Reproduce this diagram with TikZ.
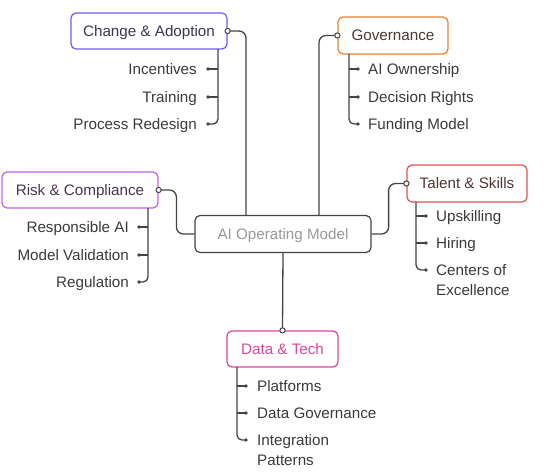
\documentclass[tikz,border=0pt]{standalone}
\usepackage{fontspec}
\setmainfont{Liberation Sans}
\usetikzlibrary{calc}
\definecolor{lc}{HTML}{444444}
\definecolor{itc}{HTML}{3A3A3A}
\definecolor{cca}{HTML}{6E5FE6}
\definecolor{cgo}{HTML}{E8802E}
\definecolor{cri}{HTML}{C562E4}
\definecolor{cta}{HTML}{E05252}
\definecolor{cda}{HTML}{E2449E}
\definecolor{tca}{HTML}{3B3652}
\definecolor{tgo}{HTML}{4A3A32}
\definecolor{tri}{HTML}{4A3652}
\definecolor{tta}{HTML}{523636}
\definecolor{tmain}{HTML}{9A9A9A}
\tikzset{
  box/.style={draw, line width=1.2pt, rounded corners=5pt, fill=white, inner sep=0pt, text height=11pt, text depth=0.5pt, font=\fontsize{15.2}{18}\selectfont},
  conn/.style={draw=lc, line width=1.3pt, rounded corners=7pt},
  item/.style={inner sep=0pt, text=itc, font=\fontsize{15.2}{20}\selectfont},
  hub/.style={draw=lc, fill=white, line width=1pt},
  dotm/.style={fill=lc}
}
\begin{document}
\begin{tikzpicture}[x=1pt,y=-1pt]
\useasboundingbox (0,0) rectangle (544,473);
% central
\node[box, draw=lc, minimum width=176pt, minimum height=37pt, text=tmain] (main) at (283,234) {AI Operating Model};
% branch boxes
\node[box, draw=cca, text=tca, minimum width=156pt, minimum height=36pt] (ca) at (149,31) {Change \& Adoption};
\node[box, draw=cgo, text=tgo, minimum width=110pt, minimum height=37pt] (go) at (393,35.5) {Governance};
\node[box, draw=cri, text=tri, minimum width=156pt, minimum height=36pt] (ri) at (80,190) {Risk \& Compliance};
\node[box, draw=cta, text=tta, minimum width=120pt, minimum height=37pt] (ta) at (467,183.5) {Talent \& Skills};
\node[box, draw=cda, text=cda, minimum width=111pt, minimum height=36pt] (da) at (282.5,349) {Data \& Tech};
% main connectors
\draw[conn] ($(main.north)+(-37,0)$) |- (ca.east);
\draw[conn] ($(main.north)+(36,0)$) |- (go.west);
\draw[conn] (main.west) -- ++(-18,0) |- (ri.east);
\draw[conn] (main.east) -- ++(17,0) |- (ta.west);
\draw[conn] (main.south) -- (da.north);
% Change & Adoption children
\coordinate (cat) at (218,49);
\coordinate (ca1) at (208,69);
\coordinate (ca2) at (208,97);
\coordinate (ca3) at (208,124);
\node[item, anchor=base east] (cai1) at (197,74.5) {Incentives};
\node[item, anchor=base east] (cai2) at (197,102.5) {Training};
\node[item, anchor=base east] (cai3) at (197,129.5) {Process Redesign};
\draw[conn, rounded corners=5pt] (cat) |- (ca3);
\draw[conn] (cat |- ca1) -- (ca1);
\draw[conn] (cat |- ca2) -- (ca2);
% Governance children
\coordinate (got) at (349,54);
\coordinate (go1) at (358,69);
\coordinate (go2) at (358,97);
\coordinate (go3) at (358,124);
\node[item, anchor=base west] (goi1) at (368,74.5) {AI Ownership};
\node[item, anchor=base west] (goi2) at (368,102.5) {Decision Rights};
\node[item, anchor=base west] (goi3) at (368,129.5) {Funding Model};
\draw[conn, rounded corners=5pt] (got) |- (go3);
\draw[conn] (got |- go1) -- (go1);
\draw[conn] (got |- go2) -- (go2);
% Risk children
\coordinate (rit) at (148,208);
\coordinate (ri1) at (139,227);
\coordinate (ri2) at (139,255);
\coordinate (ri3) at (139,282);
\node[item, anchor=base east] (rii1) at (129,232.5) {Responsible AI};
\node[item, anchor=base east] (rii2) at (129,260.5) {Model Validation};
\node[item, anchor=base east] (rii3) at (129,287.5) {Regulation};
\draw[conn, rounded corners=5pt] (rit) |- (ri3);
\draw[conn] (rit |- ri1) -- (ri1);
\draw[conn] (rit |- ri2) -- (ri2);
% Talent children
\coordinate (tat) at (416,202);
\coordinate (ta1) at (426,216);
\coordinate (ta2) at (426,243);
\coordinate (ta3) at (426,270);
\node[item, anchor=base west] (tai1) at (436,221.5) {Upskilling};
\node[item, anchor=base west] (tai2) at (436,248.5) {Hiring};
\node[item, anchor=north west, align=left] (tai3) at (436,264.5) {Centers of\\Excellence};
\draw[conn, rounded corners=5pt] (tat) |- (ta3);
\draw[conn] (tat |- ta1) -- (ta1);
\draw[conn] (tat |- ta2) -- (ta2);
% Data children
\coordinate (dat) at (237,367);
\coordinate (da1) at (246,386);
\coordinate (da2) at (246,413);
\coordinate (da3) at (246,440);
\node[item, anchor=base west] (dai1) at (257,391.5) {Platforms};
\node[item, anchor=base west] (dai2) at (257,418.5) {Data Governance};
\node[item, anchor=north west, align=left] (dai3) at (257,434.5) {Integration\\Patterns};
\draw[conn, rounded corners=5pt] (dat) |- (da3);
\draw[conn] (dat |- da1) -- (da1);
\draw[conn] (dat |- da2) -- (da2);
% dots
\foreach \p in {ca1,ca2,ca3,go1,go2,go3,ri1,ri2,ri3,ta1,ta2,ta3,da1,da2,da3}
  \fill[dotm] (\p) circle (1.9pt);
% hubs
\foreach \p in {ca.east,go.west,ri.east,ta.west,da.north}
  \draw[hub] (\p) circle (2.6pt);
\end{tikzpicture}
\end{document}
